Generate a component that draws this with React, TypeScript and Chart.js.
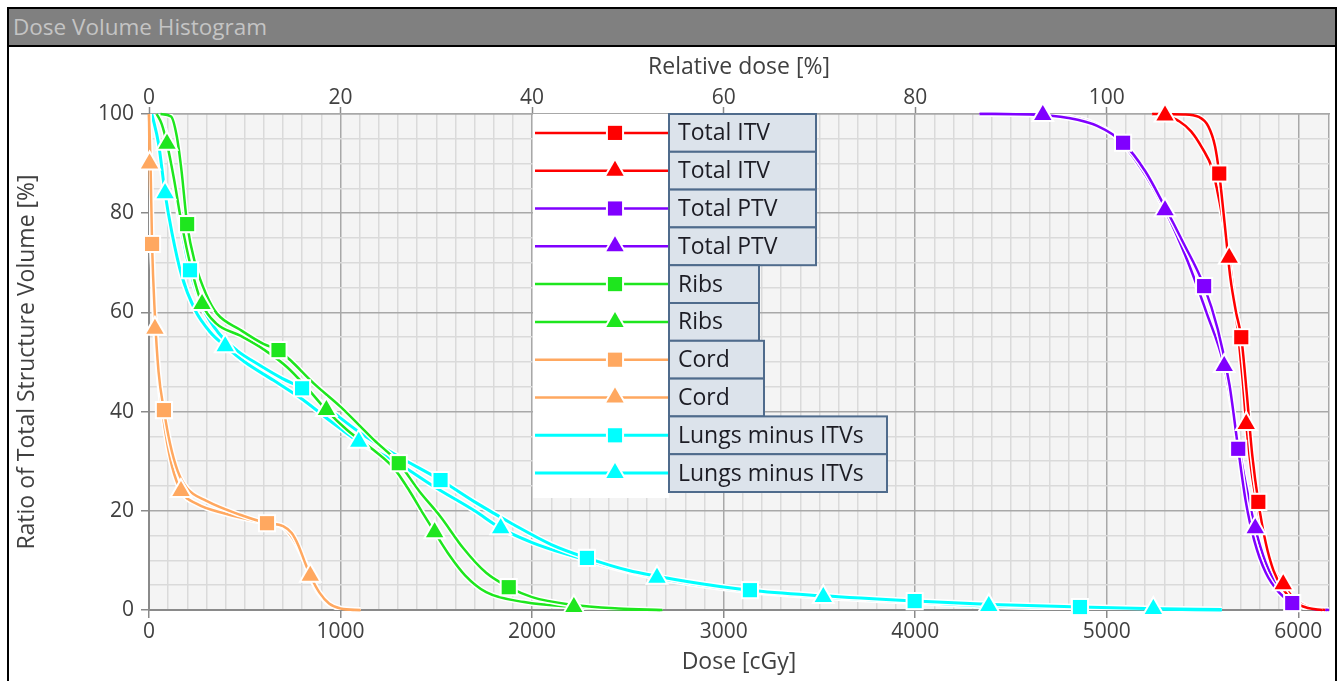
import { useEffect, useRef } from 'react';
import { Chart, registerables } from 'chart.js';

Chart.register(...registerables);

type Pt = [number, number];

// [dose cGy, ratio of total structure volume %]
const itvSquare: Pt[] = [
  [5240, 100], [5400, 99.9], [5480, 99.4], [5530, 97.5], [5565, 93.5], [5587, 88],
  [5615, 78], [5645, 67], [5675, 60], [5702, 55], [5730, 44], [5760, 31], [5791, 21.8],
  [5830, 13.5], [5870, 8], [5920, 4.2], [5980, 1.6], [6050, 0.4], [6125, 0],
];
const itvSquareMarks = [5, 9, 12];

const itvTriangle: Pt[] = [
  [5236, 100], [5304, 99.7], [5380, 98.5], [5440, 96.5], [5500, 93], [5550, 89],
  [5590, 82], [5615, 76.5], [5639, 71], [5665, 63], [5690, 54], [5710, 46], [5728, 37.5],
  [5755, 28], [5790, 20], [5830, 13], [5875, 8], [5921, 5.2], [5980, 2.2], [6050, 0.6], [6140, 0],
];
const itvTriangleMarks = [1, 8, 12, 17];

const ptvSquare: Pt[] = [
  [4336, 100], [4600, 99.9], [4800, 99.2], [4950, 97.6], [5085, 94.2], [5200, 88.5],
  [5300, 81.5], [5400, 74], [5508, 65.3], [5580, 56.5], [5640, 45.5], [5686, 32.5],
  [5725, 22], [5770, 14], [5830, 7.5], [5900, 3.5], [5968, 1.4], [6050, 0.4], [6160, 0],
];
const ptvSquareMarks = [4, 8, 11, 16];

const ptvTriangle: Pt[] = [
  [4336, 100], [4666, 99.8], [4900, 98.6], [5050, 95.3], [5180, 89], [5304, 80.6],
  [5420, 70.5], [5520, 60], [5613, 49.2], [5665, 38.5], [5715, 27.5], [5775, 16.5],
  [5830, 9.5], [5900, 4.3], [5968, 1.7], [6050, 0.4], [6150, 0],
];
const ptvTriangleMarks = [1, 5, 8, 11];

const ribsSquare: Pt[] = [
  [60, 100], [115, 99.5], [145, 95.5], [170, 88.5], [199, 77.8], [240, 70], [300, 63.5],
  [354, 59.8], [476, 56.5], [600, 53.6], [676, 52.4], [737, 50.4], [860, 45.7], [999, 41],
  [1174, 34.3], [1304, 29.6], [1410, 24], [1522, 18.8], [1640, 12.5], [1760, 7.5],
  [1878, 4.6], [2000, 2.6], [2200, 1.1], [2450, 0.3], [2680, 0],
];
const ribsSquareMarks = [4, 10, 15, 20];

const ribsTriangle: Pt[] = [
  [40, 100], [66, 98], [94, 94], [130, 87], [170, 78], [220, 69], [277, 61.7], [350, 57.8],
  [476, 55.3], [600, 52.5], [720, 49], [825, 44.8], [926, 40.3], [1034, 36.3], [1174, 32.2],
  [1280, 28.5], [1360, 24], [1430, 19.5], [1491, 15.7], [1560, 11.5], [1650, 7], [1760, 3.6],
  [1958, 1.6], [2218, 0.6], [2450, 0.15], [2670, 0],
];
const ribsTriangleMarks = [2, 6, 12, 18, 23];

const cordSquare: Pt[] = [
  [0, 100], [8, 90], [16, 73.8], [30, 60], [50, 48], [78, 40.3], [110, 33.5], [150, 28],
  [200, 24.5], [300, 22], [476, 19.2], [616, 17.5], [700, 16.9], [745, 15.5], [780, 13],
  [815, 9.5], [850, 6.3], [890, 3.5], [940, 1.3], [1000, 0.3], [1104, 0],
];
const cordSquareMarks = [2, 5, 11];

const cordTriangle: Pt[] = [
  [0, 100], [3, 90], [20, 68], [31, 56.7], [55, 45], [85, 36], [120, 29], [167, 24],
  [250, 21.4], [400, 19.4], [600, 17.6], [700, 16.7], [750, 14.5], [800, 11], [842, 6.9],
  [880, 3.8], [930, 1.5], [990, 0.4], [1050, 0.05], [1104, 0],
];
const cordTriangleMarks = [1, 3, 7, 14];

const lungsSquare: Pt[] = [
  [45, 100], [80, 97], [120, 89], [160, 79], [214, 68.5], [280, 61], [360, 56], [460, 52.3],
  [580, 49.3], [700, 46.6], [799, 44.7], [950, 40.2], [1100, 35.8], [1300, 31], [1522, 26.2],
  [1700, 21.8], [1900, 17.3], [2100, 13.2], [2286, 10.5], [2500, 8], [2800, 5.8], [3137, 4],
  [3500, 2.9], [3997, 1.8], [4400, 1.1], [4860, 0.6], [5200, 0.3], [5600, 0.1],
];
const lungsSquareMarks = [4, 10, 14, 18, 21, 23, 25];

const lungsTriangle: Pt[] = [
  [15, 100], [50, 94], [84, 84], [120, 76], [170, 67.5], [240, 60.5], [320, 56], [398, 53.2],
  [500, 50], [650, 46.3], [800, 42.5], [950, 38], [1095, 33.9], [1300, 29.6], [1500, 24.6],
  [1700, 20], [1836, 16.5], [2000, 13.6], [2200, 11], [2400, 8.8], [2652, 6.5], [3000, 4.4],
  [3520, 2.6], [4000, 1.6], [4384, 0.8], [4800, 0.5], [5243, 0.2], [5600, 0],
];
const lungsTriangleMarks = [2, 7, 12, 16, 20, 22, 24, 26];

const structures = ['Total ITV', 'Total PTV', 'Ribs', 'Cord', 'Lungs minus ITVs'];
const structureColors = ['#ff0000', '#8000ff', '#1ee61e', '#ffa860', '#00ffff'];

const DOSE_MAX = 6160;
const PRESCRIPTION = 5000; // 100 %

const FONT = '"Open Sans", "Noto Sans", sans-serif';
const MAJOR = '#a8a8a8';
const MINOR = '#dadada';

// width of the label box per structure in the legend (px)
const legendBoxWidths = [147, 147, 90, 95, 218];

const series = [
  { data: itvSquare, marks: itvSquareMarks, style: 'rect' },
  { data: itvTriangle, marks: itvTriangleMarks, style: 'triangle' },
  { data: ptvSquare, marks: ptvSquareMarks, style: 'rect' },
  { data: ptvTriangle, marks: ptvTriangleMarks, style: 'triangle' },
  { data: ribsSquare, marks: ribsSquareMarks, style: 'rect' },
  { data: ribsTriangle, marks: ribsTriangleMarks, style: 'triangle' },
  { data: cordSquare, marks: cordSquareMarks, style: 'rect' },
  { data: cordTriangle, marks: cordTriangleMarks, style: 'triangle' },
  { data: lungsSquare, marks: lungsSquareMarks, style: 'rect' },
  { data: lungsTriangle, marks: lungsTriangleMarks, style: 'triangle' },
];

function drawMarker(ctx: CanvasRenderingContext2D, style: string, x: number, y: number, r: number, color: string) {
  ctx.beginPath();
  if (style === 'rect') {
    const s = r * Math.SQRT1_2;
    ctx.rect(x - s, y - s, 2 * s, 2 * s);
  } else {
    const w = r * Math.sin(Math.PI / 3);
    ctx.moveTo(x, y - r);
    ctx.lineTo(x + w, y + r / 2);
    ctx.lineTo(x - w, y + r / 2);
    ctx.closePath();
  }
  ctx.strokeStyle = '#fff';
  ctx.lineWidth = 4;
  ctx.lineJoin = 'miter';
  ctx.stroke();
  ctx.fillStyle = color;
  ctx.fill();
}

// white background + grey plot area
const backgroundPlugin = {
  id: 'plotBackground',
  beforeDraw(chart: any) {
    const { ctx, chartArea: a } = chart;
    ctx.save();
    ctx.fillStyle = '#fff';
    ctx.fillRect(0, 0, chart.width, chart.height);
    ctx.fillStyle = '#f4f4f4';
    ctx.fillRect(a.left, a.top, a.right - a.left, a.bottom - a.top);
    ctx.restore();
  },
};

// white halo under every curve
const casingPlugin = {
  id: 'casing',
  beforeDatasetDraw(chart: any, args: any) {
    const line = args.meta.dataset;
    if (!line || !line.points || !line.points.length) return;
    const { ctx, chartArea: a } = chart;
    line.updateControlPoints(a, 'x');
    ctx.save();
    ctx.beginPath();
    ctx.rect(a.left, a.top, a.right - a.left, a.bottom - a.top);
    ctx.clip();
    ctx.beginPath();
    line.path(ctx);
    ctx.strokeStyle = '#fff';
    ctx.lineWidth = line.options.borderWidth + 3;
    ctx.lineJoin = 'round';
    ctx.stroke();
    ctx.restore();
  },
};

// square / triangle markers, drawn above all curves
const markerPlugin = {
  id: 'markers',
  afterDatasetsDraw(chart: any) {
    const { ctx } = chart;
    ctx.save();
    for (let i = series.length - 1; i >= 0; i--) {
      const meta = chart.getDatasetMeta(i);
      const color = chart.data.datasets[i].borderColor;
      series[i].marks.forEach((idx) => {
        const p = meta.data[idx];
        if (p) drawMarker(ctx, series[i].style, p.x, p.y, 10, color);
      });
    }
    ctx.restore();
  },
};

const legendPlugin = {
  id: 'dvhLegend',
  afterDraw(chart: any) {
    const { ctx } = chart;
    const ds = chart.data.datasets;
    const x0 = 524;
    const y0 = 67;
    const rowH = 37.8;
    const boxLeft = 660;
    ctx.save();
    ctx.font = `23px ${FONT}`;
    ctx.fillStyle = '#fff';
    ctx.fillRect(x0, y0, boxLeft - x0, rowH * ds.length + 6);
    ds.forEach((d: any, i: number) => {
      const top = y0 + i * rowH;
      const cy = top + rowH / 2;
      ctx.strokeStyle = d.borderColor;
      ctx.lineWidth = d.borderWidth;
      ctx.beginPath();
      ctx.moveTo(x0 + 2, cy);
      ctx.lineTo(boxLeft, cy);
      ctx.stroke();
      drawMarker(ctx, series[i].style, boxLeft - 54, cy, 10, d.borderColor);
      const w = legendBoxWidths[Math.floor(i / 2)];
      ctx.fillStyle = '#dce3eb';
      ctx.fillRect(boxLeft, top, w, rowH);
      ctx.strokeStyle = '#4f6b8c';
      ctx.lineWidth = 2;
      ctx.strokeRect(boxLeft, top, w, rowH);
      ctx.fillStyle = '#1c1c24';
      ctx.textBaseline = 'middle';
      ctx.textAlign = 'left';
      ctx.fillText(d.label, boxLeft + 9, cy + 1);
    });
    ctx.restore();
  },
};

export default function App() {
  const canvasRef = useRef<HTMLCanvasElement>(null);
  const chartRef = useRef<Chart | null>(null);

  useEffect(() => {
    const ctx = canvasRef.current?.getContext('2d');
    if (!ctx) return;
    if (chartRef.current) chartRef.current.destroy();

    const datasets = series.map((s, i) => {
      const color = structureColors[Math.floor(i / 2)];
      return {
        label: structures[Math.floor(i / 2)],
        data: s.data.map(([x, y]) => ({ x, y })),
        borderColor: color,
        backgroundColor: color,
        borderWidth: i >= 8 ? 3 : 2.5,
        pointStyle: s.style,
        pointRadius: 0,
        cubicInterpolationMode: 'monotone' as const,
        fill: false,
        clip: 4,
      };
    });

    const tickFont = { family: FONT, size: 21 };
    const titleFont = { family: FONT, size: 23 };

    chartRef.current = new Chart(ctx, {
      type: 'line',
      data: { datasets },
      options: {
        animation: false,
        responsive: false,
        events: [],
        layout: { padding: { left: 0, right: 6, top: 0, bottom: 0 } },
        plugins: {
          legend: { display: false },
          tooltip: { enabled: false },
        },
        scales: {
          x: {
            type: 'linear',
            position: 'bottom',
            min: 0,
            max: DOSE_MAX,
            afterFit: (scale: any) => { scale.height = 71; },
            ticks: {
              stepSize: 100,
              autoSkip: false,
              maxRotation: 0,
              padding: 1,
              color: '#404040',
              font: tickFont,
              callback: (v: any) => (Number(v) % 1000 === 0 ? String(v) : ''),
            },
            grid: {
              color: (c: any) => (c.tick.value % 1000 === 0 || c.tick.value === DOSE_MAX ? MAJOR : MINOR),
              lineWidth: 1.5,
              tickLength: 8,
              tickWidth: 1.5,
              tickColor: (c: any) => (c.tick.value % 1000 === 0 ? '#8a8a8a' : 'rgba(0,0,0,0)'),
            },
            border: { color: '#8a8a8a', width: 2 },
            title: {
              display: true,
              text: 'Dose [cGy]',
              color: '#404040',
              font: titleFont,
              padding: { top: 0, bottom: 5 },
            },
          },
          x2: {
            type: 'linear',
            position: 'top',
            min: 0,
            max: (DOSE_MAX / PRESCRIPTION) * 100,
            afterFit: (scale: any) => { scale.height = 67; },
            ticks: {
              stepSize: 20,
              autoSkip: false,
              maxRotation: 0,
              padding: -4,
              color: '#404040',
              font: tickFont,
              callback: (v: any) => (Math.abs(Number(v) % 20) < 1e-6 ? String(v) : null),
            },
            grid: {
              drawOnChartArea: false,
              tickLength: 7,
              tickWidth: 1.5,
              tickColor: '#8a8a8a',
            },
            border: { color: MAJOR, width: 1.5 },
            title: {
              display: true,
              text: 'Relative dose [%]',
              color: '#404040',
              font: titleFont,
              padding: { top: 7, bottom: 0 },
            },
          },
          y: {
            type: 'linear',
            position: 'left',
            min: 0,
            max: 100,
            afterFit: (scale: any) => { scale.width = 140; },
            ticks: {
              stepSize: 5,
              autoSkip: false,
              padding: 7,
              color: '#404040',
              font: tickFont,
              callback: (v: any) => (Number(v) % 20 === 0 ? String(v) : ''),
            },
            grid: {
              color: (c: any) => (c.tick.value % 20 === 0 ? MAJOR : MINOR),
              lineWidth: 1.5,
              tickLength: 8,
              tickWidth: 1.5,
              tickColor: (c: any) => (c.tick.value % 20 === 0 ? '#8a8a8a' : 'rgba(0,0,0,0)'),
            },
            border: { color: '#8a8a8a', width: 2 },
            title: {
              display: true,
              text: 'Ratio of Total Structure Volume [%]',
              color: '#404040',
              font: titleFont,
              padding: { top: 5, bottom: 0 },
            },
          },
        },
      } as any,
      plugins: [backgroundPlugin, casingPlugin, markerPlugin, legendPlugin],
    });

    return () => {
      if (chartRef.current) {
        chartRef.current.destroy();
        chartRef.current = null;
      }
    };
  }, []);

  return (
    <div
      style={{
        position: 'absolute',
        left: 7,
        top: 7,
        width: 1326,
        borderTop: '2px solid #000',
        borderLeft: '2px solid #000',
        borderRight: '2px solid #000',
        background: '#fff',
      }}
    >
      <div
        style={{
          height: 36,
          lineHeight: '36px',
          background: '#808080',
          borderBottom: '2px solid #000',
          color: '#c4c4c4',
          fontFamily: FONT,
          fontSize: 22.5,
          paddingLeft: 4,
          whiteSpace: 'nowrap',
        }}
      >
        Dose Volume Histogram
      </div>
      <canvas ref={canvasRef} width={1326} height={634} style={{ display: 'block', width: 1326, height: 634 }} />
    </div>
  );
}
